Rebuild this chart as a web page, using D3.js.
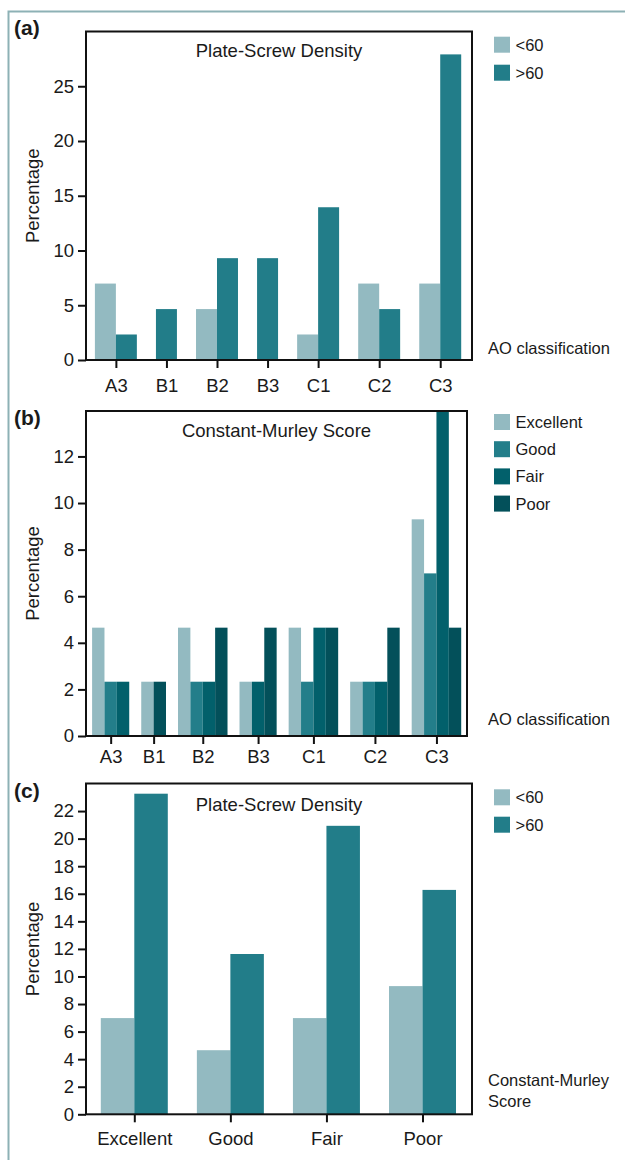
<!DOCTYPE html>
<html>
<head>
<meta charset="utf-8">
<script src="https://cdn.jsdelivr.net/npm/d3@7"></script>
<style>
  body { margin: 0; background: #fff; }
  svg { display: block; font-family: "Liberation Sans", Arial, sans-serif; }
</style>
</head>
<body>
<div id="chart"></div>
<script>
// categories
const aoCategories = ['A3', 'B1', 'B2', 'B3', 'C1', 'C2', 'C3']
const cmsCategories = ['Excellent', 'Good', 'Fair', 'Poor']
const densityNames = ['<60', '>60']
const cmsNames = ['Excellent', 'Good', 'Fair', 'Poor']

// (a) plate-screw density by AO class (%)
const aoBelow60 = [6.98, 0, 4.65, 0, 2.33, 6.98, 6.98]
const aoAbove60 = [2.33, 4.65, 9.30, 9.30, 13.95, 4.65, 27.91]

// (b) Constant-Murley score by AO class (%)
const aoExcellent = [4.65, 2.33, 4.65, 2.33, 4.65, 2.33, 9.30]
const aoGood = [2.33, 0, 2.33, 0, 2.33, 2.33, 6.98]
const aoFair = [2.33, 0, 2.33, 2.33, 4.65, 2.33, 13.95]
const aoPoor = [0, 2.33, 4.65, 4.65, 4.65, 4.65, 4.65]

// (c) plate-screw density by Constant-Murley score (%)
const cmsBelow60 = [6.98, 4.65, 6.98, 9.30]
const cmsAbove60 = [23.26, 11.63, 20.93, 16.28]

// tick labels
const ticksA = [0, 5, 10, 15, 20, 25]
const ticksB = [0, 2, 4, 6, 8, 10, 12]
const ticksC = [0, 2, 4, 6, 8, 10, 12, 14, 16, 18, 20, 22]

const light = '#93bac1'
const teal = '#227d89'

const svg = d3.select('#chart').append('svg')
    .attr('width', 625)
    .attr('height', 1160)

// outer border (top and left only)
svg.append('path')
    .attr('d', 'M8.5,1160V11.5H625')
    .attr('fill', 'none')
    .attr('stroke', '#8db1b5')
    .attr('stroke-width', 2)

function drawPanel(p) {
    const g = svg.append('g')
    const y = d3.scaleLinear().domain([0, p.yMax]).range([p.bottom, p.top])

    // bars with a value of zero are left out, their slot closes up
    let u = 0
    const groups = p.categories.map((cat, i) => {
        const start = u
        const bars = p.series.filter(s => s.values[i] > 0).map(s => ({ s, v: s.values[i], u: u++ }))
        const grp = { cat, bars, center: (start + u) / 2 }
        u += p.gap
        return grp
    })
    const x = d3.scaleLinear().domain([0, u - p.gap]).range([p.barStart, p.barEnd])

    g.append('g').selectAll('rect')
        .data(groups.flatMap(d => d.bars))
        .enter().append('rect')
        .attr('x', d => x(d.u))
        .attr('width', d => x(d.u + 1) - x(d.u))
        .attr('y', d => y(d.v))
        .attr('height', d => y(0) - y(d.v))
        .attr('fill', d => d.s.color)

    const yAxis = g.append('g')
        .attr('transform', `translate(${p.left},0)`)
        .call(d3.axisLeft(y).tickValues(p.yTicks).tickSize(8).tickPadding(4))
    yAxis.select('.domain').remove()

    const labelOf = new Map(groups.map(d => [d.center, d.cat]))
    const xAxis = g.append('g')
        .attr('transform', `translate(0,${p.bottom})`)
        .call(d3.axisBottom(x).tickValues(groups.map(d => d.center))
            .tickFormat(d => labelOf.get(d)).tickSize(8).tickPadding(p.xPad))
    xAxis.select('.domain').remove()

    g.selectAll('.tick line').attr('stroke', '#111').attr('stroke-width', 2)
    g.selectAll('.tick text').attr('fill', '#1a1a1a').style('font-size', '18.5px')

    g.append('rect')
        .attr('x', p.left)
        .attr('y', p.top)
        .attr('width', p.right - p.left)
        .attr('height', p.bottom - p.top)
        .attr('fill', 'none')
        .attr('stroke', '#111')
        .attr('stroke-width', 2)

    g.append('text')
        .attr('x', (p.left + p.right) / 2)
        .attr('y', p.titleY)
        .attr('text-anchor', 'middle')
        .style('font-size', '18.5px')
        .attr('fill', '#1a1a1a')
        .text(p.title)

    g.append('text')
        .attr('transform', `translate(39,${(p.top + p.bottom) / 2}) rotate(-90)`)
        .attr('text-anchor', 'middle')
        .style('font-size', '18.5px')
        .attr('fill', '#1a1a1a')
        .text('Percentage')

    g.append('text')
        .attr('x', 14)
        .attr('y', p.tagY)
        .style('font-size', '21px')
        .style('font-weight', 'bold')
        .attr('fill', '#1a1a1a')
        .text(p.tag)

    const side = g.append('text')
        .attr('x', 488)
        .attr('y', p.sideY)
        .style('font-size', '16.5px')
        .attr('fill', '#1a1a1a')
    side.selectAll('tspan').data(p.side).enter().append('tspan')
        .attr('x', 488)
        .attr('dy', (d, i) => i ? 21 : 0)
        .text(d => d)

    const legend = g.append('g').selectAll('g').data(p.series).enter().append('g')
        .attr('transform', (d, i) => `translate(494,${p.legendY + i * p.legendStep})`)
    legend.append('rect')
        .attr('width', 16)
        .attr('height', 16)
        .attr('fill', d => d.color)
    legend.append('text')
        .attr('x', 21.5)
        .attr('y', 14)
        .style('font-size', '16.5px')
        .attr('fill', '#1a1a1a')
        .text(d => d.name)
}

drawPanel({
    tag: '(a)', tagY: 35,
    title: 'Plate-Screw Density', titleY: 56.5,
    categories: aoCategories,
    series: [
        { name: densityNames[0], values: aoBelow60, color: light },
        { name: densityNames[1], values: aoAbove60, color: teal }
    ],
    left: 86, right: 472, top: 31.5, bottom: 360,
    yMax: 30, yTicks: ticksA,
    barStart: 94.9, barEnd: 461.2, gap: 0.91, xPad: 10.5,
    side: ['AO classification'], sideY: 354,
    legendY: 36.7, legendStep: 28
})

drawPanel({
    tag: '(b)', tagY: 425,
    title: 'Constant-Murley Score', titleY: 436.5,
    categories: aoCategories,
    series: [
        { name: cmsNames[0], values: aoExcellent, color: light },
        { name: cmsNames[1], values: aoGood, color: '#237e8a' },
        { name: cmsNames[2], values: aoFair, color: '#02606b' },
        { name: cmsNames[3], values: aoPoor, color: '#03505a' }
    ],
    left: 86, right: 467, top: 411, bottom: 736,
    yMax: 13.95, yTicks: ticksB,
    barStart: 92.1, barEnd: 461.2, gap: 0.97, xPad: 5.5,
    side: ['AO classification'], sideY: 725,
    legendY: 414, legendStep: 27.2
})

drawPanel({
    tag: '(c)', tagY: 798,
    title: 'Plate-Screw Density', titleY: 810.5,
    categories: cmsCategories,
    series: [
        { name: densityNames[0], values: cmsBelow60, color: light },
        { name: densityNames[1], values: cmsAbove60, color: teal }
    ],
    left: 86, right: 472, top: 783.5, bottom: 1114.3,
    yMax: 24, yTicks: ticksC,
    barStart: 100.8, barEnd: 456, gap: 0.868, xPad: 9.5,
    side: ['Constant-Murley', 'Score'], sideY: 1085.5,
    legendY: 789.3, legendStep: 27.4
})
</script>
</body>
</html>
